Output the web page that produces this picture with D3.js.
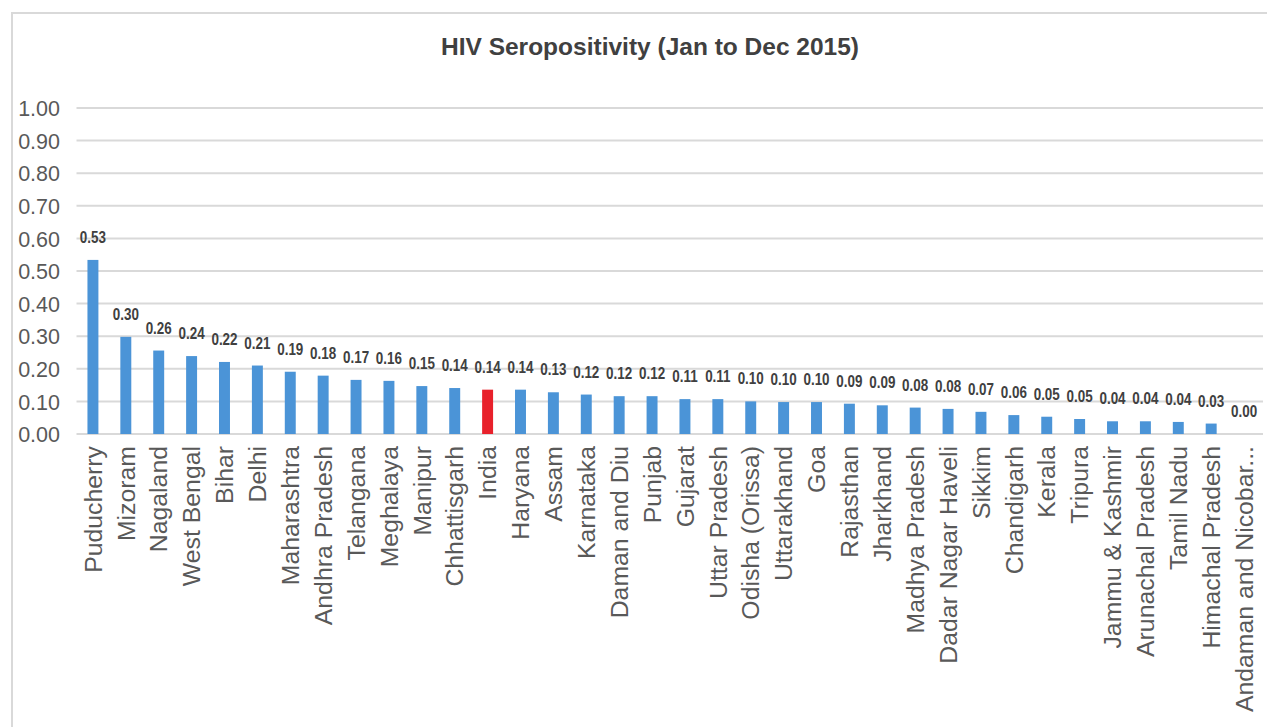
<!DOCTYPE html>
<html>
<head>
<meta charset="utf-8">
<script src="https://cdn.jsdelivr.net/npm/d3@7"></script>
<style>
  body { margin: 0; background: #fff; }
  svg { display: block; }
</style>
</head>
<body>
<script>
// states sorted by seropositivity, India highlighted
var states = ["Puducherry", "Mizoram", "Nagaland", "West Bengal", "Bihar", "Delhi",
  "Maharashtra", "Andhra Pradesh", "Telangana", "Meghalaya", "Manipur", "Chhattisgarh",
  "India", "Haryana", "Assam", "Karnataka", "Daman and Diu", "Punjab", "Gujarat",
  "Uttar Pradesh", "Odisha (Orissa)", "Uttarakhand", "Goa", "Rajasthan", "Jharkhand",
  "Madhya Pradesh", "Dadar Nagar Haveli", "Sikkim", "Chandigarh", "Kerala", "Tripura",
  "Jammu & Kashmir", "Arunachal Pradesh", "Tamil Nadu", "Himachal Pradesh",
  "Andaman and Nicobar..."];

var seropositivity = [0.534, 0.298, 0.256, 0.239, 0.221, 0.210,
  0.191, 0.179, 0.166, 0.163, 0.147, 0.141,
  0.136, 0.136, 0.128, 0.121, 0.116, 0.116, 0.107,
  0.107, 0.100, 0.098, 0.098, 0.093, 0.088,
  0.081, 0.077, 0.068, 0.058, 0.053, 0.046,
  0.039, 0.039, 0.037, 0.032, 0.0];

var yTicks = [0, 0.1, 0.2, 0.3, 0.4, 0.5, 0.6, 0.7, 0.8, 0.9, 1.0];

var W = 1267, H = 727;
var plot = {left: 76.5, right: 1260.5, top: 108, bottom: 434};

var svg = d3.select("body").append("svg")
    .attr("width", W).attr("height", H);

// chart frame
svg.append("rect")
    .attr("x", 12).attr("y", 13)
    .attr("width", W + 10).attr("height", H + 10)
    .attr("fill", "#fff")
    .attr("stroke", "#d9d9d9").attr("stroke-width", 2);

svg.append("text")
    .attr("x", 650).attr("y", 55)
    .attr("text-anchor", "middle")
    .style("font-family", "Liberation Sans, Arial, sans-serif")
    .style("font-weight", "bold").style("font-size", "24.5px")
    .style("fill", "#404040")
    .text("HIV Seropositivity (Jan to Dec 2015)");

var x = d3.scaleBand().domain(states)
    .range([plot.left, plot.right]).paddingInner(0.667).paddingOuter(0.333);
var y = d3.scaleLinear().domain([0, 1]).range([plot.bottom, plot.top]);
var fmt = d3.format(".2f");

// gridlines
svg.append("g").selectAll("line").data(yTicks).enter().append("line")
    .attr("x1", plot.left).attr("x2", 1263)
    .attr("y1", function(d){ return y(d); }).attr("y2", function(d){ return y(d); })
    .attr("stroke", "#d9d9d9").attr("stroke-width", 2);

// y axis labels
var yAxis = d3.axisLeft(y).tickValues(yTicks).tickFormat(fmt).tickSize(0).tickPadding(0);
var ya = svg.append("g").attr("transform", "translate(60,0)").call(yAxis);
ya.select(".domain").remove();
ya.selectAll("text")
    .style("font-family", "Liberation Sans, Arial, sans-serif")
    .style("font-size", "21.5px").style("fill", "#595959")
    .attr("dy", "0.36em");

// bars
svg.append("g").selectAll("rect").data(states).enter().append("rect")
    .attr("x", function(d){ return x(d); })
    .attr("width", x.bandwidth())
    .attr("y", function(d, i){ return y(seropositivity[i]); })
    .attr("height", function(d, i){ return y(0) - y(seropositivity[i]); })
    .attr("fill", function(d){ return d === "India" ? "#e8212b" : "#4b94d7"; });

// value labels (condensed bold, squeezed horizontally)
svg.append("g").selectAll("text").data(states).enter().append("text")
    .attr("transform", function(d, i){
      return "translate(" + (x(d) + x.bandwidth() / 2) + "," + (y(seropositivity[i]) - 17) + ") scale(0.84,1)";
    })
    .attr("text-anchor", "middle")
    .style("font-family", "Liberation Sans, Arial, sans-serif")
    .style("font-weight", "bold").style("font-size", "16px")
    .style("fill", "#404040")
    .text(function(d, i){ return fmt(seropositivity[i]); });

// x axis labels, rotated
var xAxis = d3.axisBottom(x).tickSize(0).tickPadding(0);
var xa = svg.append("g").attr("transform", "translate(0," + plot.bottom + ")").call(xAxis);
xa.select(".domain").remove();
xa.selectAll("text")
    .style("font-family", "Liberation Sans, Arial, sans-serif")
    .style("font-size", "24.8px").style("fill", "#595959")
    .attr("text-anchor", "end")
    .attr("transform", "translate(0,12) rotate(-90)")
    .attr("x", 0).attr("y", 0).attr("dy", "0.35em");
</script>
</body>
</html>
